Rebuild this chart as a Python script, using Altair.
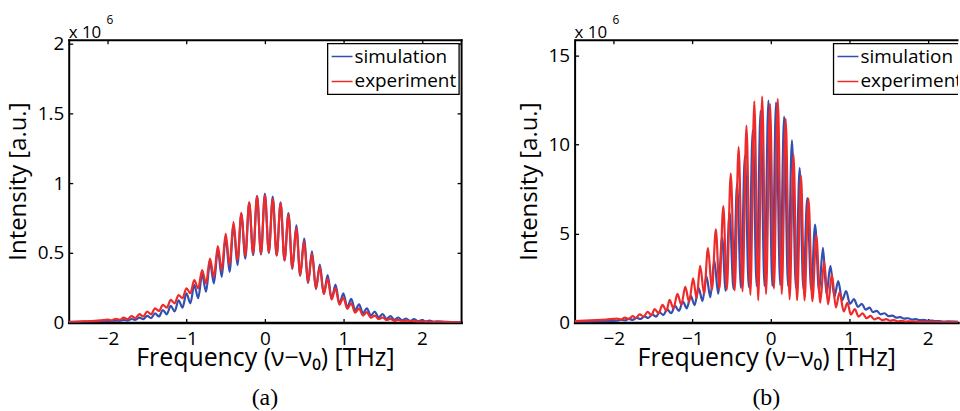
import altair as alt
import pandas as pd

# ---------------- data (intensity in units of 1e6) ----------------
SERIES = ["simulation", "experiment"]
COLORS = ["#3150b0", "#ee2b2b"]
X_TICKS = [-2, -1, 0, 1, 2]
A_Y_TICKS = [0, 0.5, 1, 1.5, 2]
B_Y_TICKS = [0, 5, 10, 15]

# panel (a) simulation
A_SIM_X = [-2.5, -2.3, -2.1, -2.0, -1.95, -1.9, -1.85, -1.8, -1.75, -1.7, -1.65, -1.6, -1.55, -1.5,
           -1.45, -1.4, -1.35, -1.3, -1.25, -1.2, -1.15, -1.1, -1.05, -1.0, -0.95, -0.9, -0.85, -0.8,
           -0.75, -0.7, -0.65, -0.6, -0.55, -0.5, -0.45, -0.4, -0.35, -0.3, -0.25, -0.2, -0.15, -0.1,
           -0.05, 0.0, 0.05, 0.1, 0.15, 0.2, 0.25, 0.3, 0.35, 0.4, 0.45, 0.5, 0.55, 0.6, 0.65, 0.7,
           0.75, 0.8, 0.85, 0.9, 0.95, 1.0, 1.05, 1.1, 1.15, 1.2, 1.25, 1.3, 1.35, 1.4, 1.45, 1.5,
           1.55, 1.6, 1.65, 1.7, 1.75, 1.8, 1.85, 1.9, 1.95, 2.0, 2.05, 2.1, 2.15, 2.2, 2.3, 2.5]
A_SIM_Y = [0.004, 0.006, 0.008, 0.010, 0.009, 0.013, 0.012, 0.018, 0.014, 0.025, 0.019, 0.035, 0.024, 0.048,
           0.031, 0.065, 0.043, 0.09, 0.059, 0.12, 0.079, 0.16, 0.107, 0.21, 0.138, 0.27, 0.174, 0.345,
           0.221, 0.43, 0.281, 0.52, 0.328, 0.61, 0.364, 0.70, 0.412, 0.78, 0.459, 0.86, 0.483, 0.91,
           0.488, 0.925, 0.50, 0.903, 0.48, 0.863, 0.445, 0.785, 0.385, 0.697, 0.335, 0.602, 0.285, 0.511, 0.24, 0.416,
           0.205, 0.34, 0.17, 0.273, 0.135, 0.21, 0.11, 0.169, 0.088, 0.131, 0.066, 0.102, 0.05, 0.079, 0.037, 0.06,
           0.027, 0.046, 0.02, 0.036, 0.015, 0.029, 0.011, 0.024, 0.009, 0.018, 0.007, 0.013, 0.005, 0.009, 0.005, 0.003]

# panel (a) experiment
A_EXP_X = [-2.5, -2.3, -2.1, -2.0, -1.95, -1.9, -1.85, -1.8, -1.75, -1.7, -1.65, -1.6, -1.55, -1.5,
           -1.45, -1.4, -1.35, -1.3, -1.25, -1.2, -1.15, -1.1, -1.05, -1.0, -0.95, -0.9, -0.85, -0.8,
           -0.75, -0.7, -0.65, -0.6, -0.55, -0.5, -0.45, -0.4, -0.35, -0.3, -0.25, -0.2, -0.15, -0.1,
           -0.05, 0.0, 0.05, 0.1, 0.15, 0.2, 0.25, 0.3, 0.35, 0.4, 0.45, 0.5, 0.55, 0.6, 0.65, 0.7,
           0.75, 0.8, 0.85, 0.9, 0.95, 1.0, 1.05, 1.1, 1.15, 1.2, 1.25, 1.3, 1.35, 1.4, 1.45, 1.5,
           1.55, 1.6, 1.65, 1.7, 1.75, 1.8, 1.9, 2.0, 2.2, 2.5]
A_EXP_Y = [0.003, 0.008, 0.015, 0.021, 0.016, 0.027, 0.019, 0.035, 0.024, 0.046, 0.031, 0.06, 0.043, 0.079,
           0.059, 0.102, 0.083, 0.126, 0.107, 0.162, 0.138, 0.197, 0.174, 0.245, 0.21, 0.304, 0.245, 0.376,
           0.281, 0.459, 0.328, 0.549, 0.376, 0.637, 0.412, 0.72, 0.447, 0.787, 0.478, 0.863, 0.495, 0.905,
           0.495, 0.915, 0.506, 0.887, 0.483, 0.855, 0.447, 0.775, 0.388, 0.678, 0.34, 0.583, 0.288, 0.495, 0.245, 0.40,
           0.205, 0.316, 0.165, 0.245, 0.128, 0.179, 0.098, 0.138, 0.07, 0.102, 0.05, 0.074, 0.035, 0.05, 0.025, 0.036,
           0.018, 0.026, 0.012, 0.019, 0.009, 0.014, 0.008, 0.006, 0.004, 0.002]

# panel (b) simulation
B_SIM_X = [-2.5, -2.3, -2.1, -1.96, -1.91, -1.86, -1.81, -1.76, -1.71, -1.66, -1.61, -1.56, -1.51, -1.46,
           -1.42, -1.37, -1.32, -1.27, -1.22, -1.17, -1.12, -1.07, -1.02, -0.97, -0.92, -0.87, -0.82, -0.77,
           -0.72, -0.67, -0.62, -0.575, -0.525, -0.475, -0.43, -0.38, -0.33, -0.28, -0.23, -0.18, -0.13, -0.08,
           -0.03, 0.02, 0.067, 0.12, 0.17, 0.22, 0.27, 0.32, 0.368, 0.415, 0.465, 0.515, 0.565, 0.615,
           0.665, 0.71, 0.76, 0.81, 0.86, 0.91, 0.96, 1.01, 1.06, 1.11, 1.16, 1.21, 1.26, 1.3,
           1.35, 1.4, 1.45, 1.5, 1.55, 1.6, 1.65, 1.7, 1.75, 1.8, 1.85, 1.9, 1.95, 2.0,
           2.05, 2.1, 2.15, 2.2, 2.25, 2.4]
B_SIM_Y = [0.03, 0.05, 0.08, 0.10, 0.16, 0.12, 0.2, 0.15, 0.26, 0.2, 0.34, 0.26, 0.45, 0.33,
           0.58, 0.42, 0.74, 0.52, 0.93, 0.65, 1.17, 0.8, 1.5, 0.98, 1.95, 1.2, 2.6, 1.42,
           3.5, 1.62, 4.8, 1.78, 6.2, 1.88, 7.8, 1.95, 9.35, 2.0, 10.8, 2.05, 11.9, 2.05,
           12.47, 2.05, 12.38, 2.1, 11.58, 2.05, 10.24, 1.95, 8.68, 1.9, 7.0, 1.85, 5.51, 1.75,
           4.2, 1.6, 3.19, 1.45, 2.33, 1.25, 1.77, 1.05, 1.32, 0.88, 1.05, 0.72, 0.84, 0.58,
           0.65, 0.46, 0.52, 0.36, 0.39, 0.28, 0.3, 0.22, 0.24, 0.17, 0.19, 0.13, 0.15, 0.1,
           0.11, 0.075, 0.08, 0.055, 0.06, 0.04]

# panel (b) experiment
B_EXP_X = [-2.5, -2.3, -2.1, -1.96, -1.91, -1.86, -1.81, -1.76, -1.72, -1.67, -1.62, -1.57, -1.52, -1.48,
           -1.43, -1.38, -1.33, -1.29, -1.24, -1.19, -1.14, -1.09, -1.04, -0.99, -0.945, -0.90, -0.85, -0.80,
           -0.75, -0.70, -0.655, -0.605, -0.56, -0.51, -0.46, -0.41, -0.36, -0.31, -0.26, -0.21, -0.16, -0.11,
           -0.06, -0.01, 0.04, 0.089, 0.14, 0.19, 0.24, 0.29, 0.335, 0.385, 0.43, 0.48, 0.53, 0.58,
           0.63, 0.68, 0.73, 0.778, 0.83, 0.876, 0.93, 0.977, 1.02, 1.07, 1.12, 1.17, 1.22, 1.27,
           1.32, 1.37, 1.42, 1.47, 1.52, 1.57, 1.62, 1.67, 1.72, 1.77, 1.9, 2.1, 2.4]
B_EXP_Y = [0.08, 0.12, 0.16, 0.22, 0.17, 0.28, 0.2, 0.36, 0.26, 0.46, 0.33, 0.6, 0.42, 0.76,
           0.52, 0.99, 0.65, 1.27, 0.8, 1.61, 1.0, 2.0, 1.15, 2.48, 1.36, 3.18, 1.62, 4.18,
           1.85, 5.24, 1.9, 6.54, 1.85, 8.37, 1.8, 9.86, 1.75, 11.07, 1.55, 12.44, 1.25, 12.7,
           1.6, 12.3, 1.9, 12.57, 1.6, 11.45, 1.3, 9.43, 1.25, 8.24, 1.25, 6.97, 1.2, 4.9,
           1.12, 3.42, 1.02, 2.71, 0.84, 1.7, 0.62, 1.1, 0.44, 0.75, 0.33, 0.52, 0.24, 0.37,
           0.18, 0.26, 0.13, 0.19, 0.1, 0.14, 0.07, 0.1, 0.05, 0.07, 0.04, 0.03, 0.02]

FONT = "Open Sans"
H = 284


def frame_axis(orient, values, **kw):
    base = dict(orient=orient, values=values, labels=False, title=None, ticks=False,
                domain=True, domainWidth=2, domainColor="black", domainCap="square", grid=False)
    base.update(kw)
    return alt.Axis(**base)


def tick_axis(orient, values):
    return alt.Axis(orient=orient, values=values, labels=False, title=None, ticks=True,
                    tickSize=4, tickWidth=1.3, tickColor="black", offset=-4, domain=False, grid=False)


def one_row(text):
    return pd.DataFrame({"t": [text]})


def make_panel(sx, sy, ex, ey, xdom, ydom, yticks, width, label, show_right):
    sim_df = pd.DataFrame({"x": sx, "y": sy, "s": SERIES[0]})
    exp_df = pd.DataFrame({"x": ex, "y": ey, "s": SERIES[1]})
    xsc = alt.Scale(domain=xdom, nice=False, zero=False)
    ysc = alt.Scale(domain=ydom, nice=False, zero=False)

    x_main = alt.Axis(orient="bottom", values=X_TICKS, format="~g", title="Frequency (ν−ν₀) [THz]",
                      ticks=False, tickSize=0, domain=True, domainWidth=2.5, domainColor="black",
                      domainCap="square", labelPadding=7, labelFontSize=19, titleFontSize=25,
                      titlePadding=-3, grid=False)
    y_main = alt.Axis(orient="left", values=yticks, format="~g", title="Intensity [a.u.]",
                      ticks=False, tickSize=0, domain=True, domainWidth=2, domainColor="black",
                      domainCap="square", labelPadding=5, labelFontSize=19, titleFontSize=24,
                      titlePadding=7, grid=False)

    line_kw = dict(strokeWidth=2.2, interpolate="monotone", clip=True)
    sim = alt.Chart(sim_df).mark_line(color=COLORS[0], **line_kw).encode(
        x=alt.X("x:Q", scale=xsc, axis=x_main),
        y=alt.Y("y:Q", scale=ysc, axis=y_main),
    )
    exp = alt.Chart(exp_df).mark_line(color=COLORS[1], **line_kw).encode(
        x=alt.X("x:Q", scale=xsc, axis=frame_axis("top", X_TICKS, domainCap="square" if show_right else "butt")),
        y=alt.Y("y:Q", scale=ysc, axis=frame_axis("right", yticks) if show_right else None),
    )
    ticks_bl = alt.Chart(sim_df).mark_line(opacity=0).encode(
        x=alt.X("x:Q", scale=xsc, axis=tick_axis("bottom", X_TICKS)),
        y=alt.Y("y:Q", scale=ysc, axis=tick_axis("left", yticks)),
    )
    ticks_tr = alt.Chart(sim_df).mark_line(opacity=0).encode(
        x=alt.X("x:Q", scale=xsc, axis=tick_axis("top", X_TICKS)),
        y=alt.Y("y:Q", scale=ysc, axis=tick_axis("right", yticks) if show_right else None),
    )

    # legend box (inside the plot, upper right)
    box = alt.Chart(one_row("box")).mark_rect(fill="white", stroke="black", strokeWidth=1.3, clip=True).encode(
        x=alt.value(260), x2=alt.value(392), y=alt.value(4), y2=alt.value(55))
    leg = []
    for i, (name, col) in enumerate(zip(SERIES, COLORS)):
        yy = 17 + 25 * i
        leg.append(alt.Chart(one_row(name)).mark_rule(color=col, strokeWidth=1.5, clip=True).encode(
            x=alt.value(264), x2=alt.value(285), y=alt.value(yy)))
        leg.append(alt.Chart(one_row(name)).mark_text(
            align="left", baseline="middle", font=FONT, fontSize=19, color="black", clip=True).encode(
            text="t:N", x=alt.value(287), y=alt.value(yy)))

    mult = alt.Chart(one_row("x 10")).mark_text(
        align="left", baseline="alphabetic", font=FONT, fontSize=17, color="black").encode(
        text="t:N", x=alt.value(0), y=alt.value(-2))
    expo = alt.Chart(one_row("6")).mark_text(
        align="left", baseline="alphabetic", font=FONT, fontSize=12, color="black").encode(
        text="t:N", x=alt.value(38), y=alt.value(-16))

    return alt.layer(sim, exp, ticks_bl, ticks_tr, box, *leg, mult, expo).resolve_scale(
        x="shared", y="shared").resolve_axis(x="independent", y="independent").properties(
        width=width, height=H,
        title=alt.TitleParams(label, orient="bottom", font="Liberation Serif", fontSize=24,
                              fontWeight="normal", color="black", offset=16, anchor="middle"))


pa = make_panel(A_SIM_X, A_SIM_Y, A_EXP_X, A_EXP_Y, [-2.5, 2.5], [0, 2.03], A_Y_TICKS, 394, "(a)", True)
pb = make_panel(B_SIM_X, B_SIM_Y, B_EXP_X, B_EXP_Y, [-2.5, 2.386], [0, 15.9], B_Y_TICKS, 385, "(b)", False)

chart = alt.hconcat(pa, pb, spacing=55).properties(
    padding={"left": 6, "top": 13, "right": 0, "bottom": 0}
).configure_view(stroke=None).configure_axis(
    labelFont=FONT, titleFont=FONT, labelColor="black", titleColor="black",
    titleFontWeight="normal", grid=False
)

chart.save("out.html", embed_options={"renderer": "svg", "actions": False})
